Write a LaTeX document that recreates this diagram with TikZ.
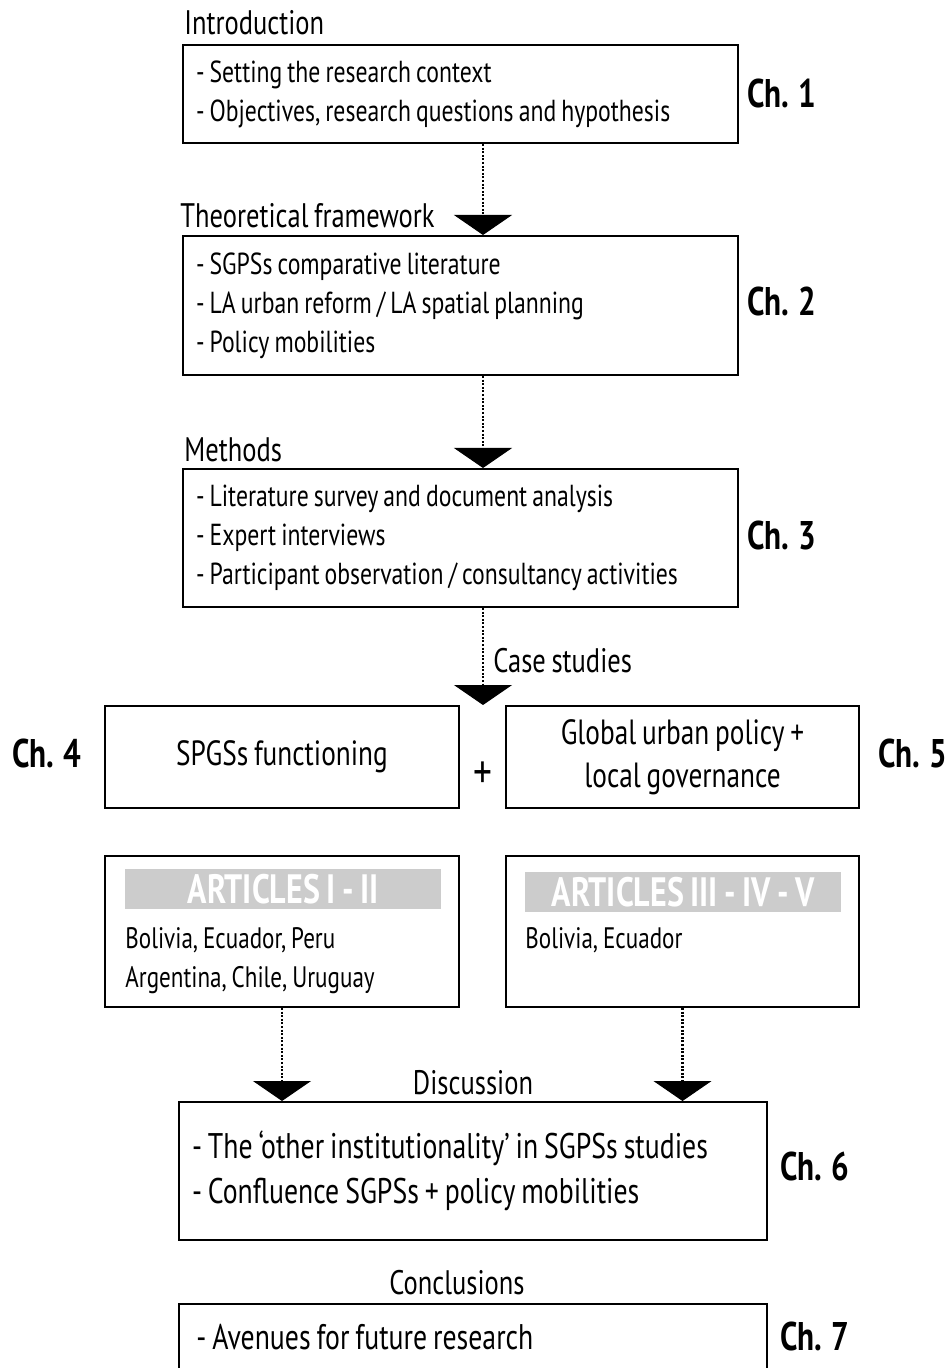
\documentclass[tikz,border=0pt]{standalone}
\usepackage{fontspec}
\setmainfont{PT Sans}[FakeStretch=0.78, WordSpace=0.8]
\usetikzlibrary{arrows.meta}
\definecolor{banner}{HTML}{CCCCCC}
\begin{document}
\begin{tikzpicture}[x=0.5pt,y=-0.5pt,
  frame/.style={draw, line width=1pt, inner xsep=6.5pt, inner ysep=0pt, align=left,
    font=\fontsize{15.2}{19.5}\selectfont, execute at begin node={\spaceskip=0pt\xspaceskip=0pt\relax}},
  plainbox/.style={draw, line width=1pt, inner sep=0pt, align=center,
    font=\fontsize{17.5}{21.5}\selectfont, execute at begin node={\spaceskip=0pt\xspaceskip=0pt\relax}},
  ttl/.style={anchor=base west, inner sep=0pt, font=\fontsize{17}{19}\selectfont},
  ttlc/.style={anchor=base, inner sep=0pt, font=\fontsize{17}{19}\selectfont},
  chap/.style={anchor=base west, inner sep=0pt, font=\bfseries\fontsize{20}{22}\selectfont},
  bann/.style={fill=banner, inner sep=0pt, minimum width=158pt, minimum height=20pt,
    text=white, font=\bfseries\fontsize{20.5}{21}\selectfont},
  itemtxt/.style={anchor=base west, inner sep=0pt, font=\fontsize{14.8}{17}\selectfont},
  flow/.style={line width=1.4pt, dash pattern=on 1pt off 0.8pt,
    -{Triangle[width=29pt,length=10pt,line width=0.5pt]}}
]
\useasboundingbox (0,0) rectangle (950,1368);
\coordinate (axis) at (483,0);

% Chapter 1
\node[ttl] (tIntro) at (184,35) {Introduction};
\node[frame, text width=264.5pt, minimum height=49pt] (b1) at (460.5,94)
  {- Setting the research context\\- Objectives, research questions and hypothesis};
\node[chap] (c1) at (747,108) {Ch. 1};

% Chapter 2
\node[ttl] (tTheo) at (180,228) {Theoretical framework};
\node[frame, text width=264.5pt, minimum height=69.5pt] (b2) at (460.5,305.5)
  {- SGPSs comparative literature\\- LA urban reform / LA spatial planning\\- Policy mobilities};
\node[chap] (c2) at (747,316) {Ch. 2};

% Chapter 3
\node[ttl] (tMeth) at (184,462) {Methods};
\node[frame, text width=264.5pt, minimum height=69pt] (b3) at (460.5,538)
  {- Literature survey and document analysis\\- Expert interviews\\- Participant observation / consultancy activities};
\node[chap] (c3) at (747,549) {Ch. 3};

% Case studies
\node[ttl] (tCase) at (493,672) {Case studies};
\coordinate (caseTip) at (483,705);
\node[plainbox, minimum width=177pt, minimum height=51pt] (b4) at (282,757) {SPGSs functioning};
\node[plainbox, minimum width=176.5pt, minimum height=51pt] (b5) at (682.5,757)
  {Global urban policy +\\local governance};
\node[inner sep=0pt, font=\fontsize{24}{26}\selectfont] (plus) at (483,775) {+};
\node[chap] (c4) at (12,767) {Ch. 4};
\node[chap] (c5) at (878,767) {Ch. 5};

% Articles
\node[draw, line width=1pt, minimum width=177pt, minimum height=75.5pt, inner sep=0pt] (aA) at (282,931.5) {};
\node[draw, line width=1pt, minimum width=176.5pt, minimum height=75.5pt, inner sep=0pt] (aB) at (682.5,931.5) {};
\node[bann] (bnA) at (283,889) {ARTICLES I - II};
\node[bann] (bnB) at (683,892) {ARTICLES III - IV - V};
\node[itemtxt] (ctA1) at (125,948) {Bolivia, Ecuador, Peru};
\node[itemtxt] (ctA2) at (125,987) {Argentina, Chile, Uruguay};
\node[itemtxt] (ctB1) at (525,948) {Bolivia, Ecuador};

% Chapter 6
\node[ttlc] (tDisc) at (473,1094) {Discussion};
\node[frame, text width=281pt, minimum height=69pt, font=\fontsize{17.8}{22.5}\selectfont] (b6) at (473,1171)
  {- The `other institutionality' in SGPSs studies\\- Confluence SGPSs + policy mobilities};
\node[chap] (c6) at (780,1180) {Ch. 6};

% Chapter 7
\node[ttlc] (tConc) at (457,1294) {Conclusions};
\node[draw, line width=1pt, minimum width=294pt, minimum height=69pt, inner sep=0pt] (b7) at (473,1373) {};
\node[itemtxt, font=\fontsize{17.8}{19}\selectfont] (l7) at (196,1349) {- Avenues for future research};
\node[chap] (c7) at (780,1350) {Ch. 7};

% connectors
\draw[flow] (b1.south -| axis) -- (b2.north -| axis);
\draw[flow] (b2.south -| axis) -- (b3.north -| axis);
\draw[flow] (b3.south -| axis) -- (caseTip);
\draw[flow] (aA.south) -- (aA.south |- b6.north);
\draw[flow] (aB.south) -- (aB.south |- b6.north);
\end{tikzpicture}
\end{document}
